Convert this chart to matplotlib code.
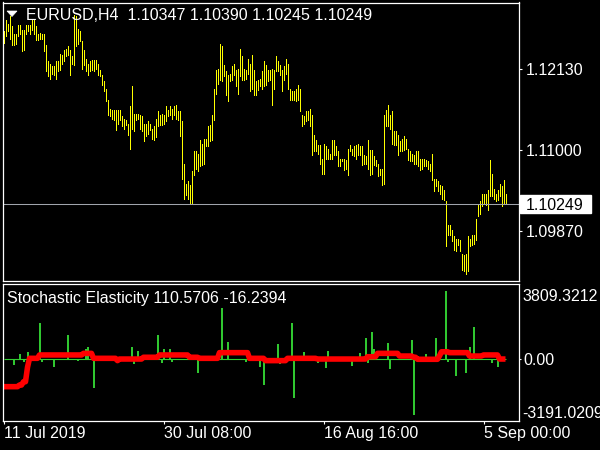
import numpy as np
import matplotlib
matplotlib.use("Agg")
import matplotlib.pyplot as plt
from matplotlib.transforms import blended_transform_factory, offset_copy
from matplotlib.patches import Rectangle, Polygon

plt.rcParams['font.family'] = ['Liberation Sans', 'DejaVu Sans']

# ---------------- data ----------------
header_text = "EURUSD,H4  1.10347 1.10390 1.10245 1.10249"
indicator_text = "Stochastic Elasticity 110.5706 -16.2394"

high = [1.1266,1.1282,1.1277,1.1287,1.1274,1.1263,1.1263,1.1275,1.1275,1.1268,
        1.1268,1.1275,1.1275,1.1275,1.1284,1.1284,1.1273,1.1263,1.1264,1.1263,
        1.1263,1.1247,1.1224,1.1221,1.1217,1.1217,1.1224,1.1224,1.1235,1.1233,
        1.1240,1.1242,1.1245,1.1240,1.1231,1.1289,1.1287,1.1270,1.1266,1.1252,
        1.1240,1.1228,1.1221,1.1224,1.1226,1.1226,1.1226,1.1221,1.1212,1.1205,
        1.1196,1.1186,1.1170,1.1158,1.1156,1.1156,1.1156,1.1156,1.1156,1.1147,
        1.1144,1.1142,1.1137,1.1161,1.1189,1.1151,1.1151,1.1151,1.1149,1.1147,
        1.1137,1.1137,1.1140,1.1137,1.1130,1.1133,1.1144,1.1154,1.1149,1.1151,
        1.1149,1.1161,1.1156,1.1161,1.1158,1.1161,1.1163,1.1154,1.1154,1.1140,
        1.1081,1.1053,1.1056,1.1051,1.1070,1.1098,1.1098,1.1095,1.1114,1.1109,
        1.1116,1.1116,1.1133,1.1135,1.1149,1.1186,1.1212,1.1214,1.1249,1.1245,
        1.1219,1.1210,1.1205,1.1207,1.1217,1.1221,1.1212,1.1214,1.1242,1.1231,
        1.1214,1.1212,1.1228,1.1221,1.1233,1.1212,1.1196,1.1198,1.1200,1.1210,
        1.1224,1.1219,1.1212,1.1212,1.1214,1.1212,1.1231,1.1224,1.1219,1.1212,
        1.1217,1.1228,1.1221,1.1186,1.1182,1.1182,1.1186,1.1191,1.1186,1.1149,
        1.1147,1.1154,1.1154,1.1158,1.1149,1.1121,1.1114,1.1107,1.1107,1.1088,
        1.1109,1.1105,1.1102,1.1095,1.1114,1.1114,1.1105,1.1098,1.1088,1.1088,
        1.1088,1.1086,1.1102,1.1107,1.1102,1.1105,1.1107,1.1109,1.1105,1.1105,
        1.1093,1.1091,1.1114,1.1100,1.1100,1.1091,1.1086,1.1081,1.1074,1.1074,
        1.1149,1.1156,1.1163,1.1149,1.1154,1.1126,1.1126,1.1121,1.1112,1.1116,
        1.1119,1.1116,1.1102,1.1098,1.1095,1.1093,1.1098,1.1098,1.1088,1.1088,
        1.1088,1.1086,1.1084,1.1081,1.1095,1.1060,1.1060,1.1056,1.1051,1.1049,
        1.1044,1.1028,1.0995,1.0995,1.0988,1.0979,1.0976,1.0976,1.0974,1.0955,
        1.0953,1.0955,1.0979,1.0976,1.0981,1.0981,1.1004,1.1023,1.1028,1.1039,
        1.1039,1.1039,1.1044,1.1086,1.1067,1.1046,1.1039,1.1044,1.1053,1.1049,
        1.1058,1.1039]

low = [1.1250,1.1259,1.1266,1.1256,1.1247,1.1247,1.1249,1.1259,1.1263,1.1238,
       1.1240,1.1263,1.1266,1.1263,1.1268,1.1263,1.1254,1.1254,1.1256,1.1256,
       1.1238,1.1210,1.1203,1.1200,1.1207,1.1205,1.1200,1.1210,1.1212,1.1221,
       1.1224,1.1231,1.1233,1.1205,1.1221,1.1219,1.1245,1.1249,1.1252,1.1214,
       1.1219,1.1210,1.1205,1.1210,1.1212,1.1210,1.1214,1.1205,1.1203,1.1191,
       1.1182,1.1168,1.1149,1.1147,1.1144,1.1142,1.1128,1.1137,1.1142,1.1133,
       1.1130,1.1135,1.1121,1.1102,1.1130,1.1126,1.1142,1.1144,1.1130,1.1126,
       1.1112,1.1119,1.1123,1.1128,1.1116,1.1114,1.1118,1.1133,1.1135,1.1135,
       1.1137,1.1140,1.1147,1.1149,1.1144,1.1149,1.1144,1.1142,1.1120,1.1060,
       1.1032,1.1037,1.1032,1.1025,1.1025,1.1065,1.1074,1.1070,1.1077,1.1079,
       1.1081,1.1105,1.1105,1.1112,1.1114,1.1142,1.1179,1.1193,1.1198,1.1196,
       1.1203,1.1177,1.1168,1.1196,1.1198,1.1205,1.1189,1.1179,1.1203,1.1198,
       1.1198,1.1200,1.1207,1.1182,1.1186,1.1177,1.1177,1.1184,1.1189,1.1186,
       1.1189,1.1191,1.1196,1.1198,1.1163,1.1186,1.1210,1.1210,1.1205,1.1182,
       1.1198,1.1207,1.1186,1.1170,1.1170,1.1170,1.1168,1.1170,1.1154,1.1133,
       1.1137,1.1140,1.1142,1.1133,1.1093,1.1098,1.1098,1.1095,1.1081,1.1067,
       1.1067,1.1088,1.1088,1.1088,1.1088,1.1093,1.1093,1.1077,1.1077,1.1084,
       1.1072,1.1074,1.1065,1.1098,1.1093,1.1091,1.1088,1.1093,1.1093,1.1079,
       1.1081,1.1081,1.1074,1.1065,1.1067,1.1079,1.1077,1.1063,1.1065,1.1051,
       1.1053,1.1133,1.1133,1.1130,1.1109,1.1107,1.1107,1.1093,1.1098,1.1098,
       1.1100,1.1102,1.1086,1.1084,1.1084,1.1081,1.1081,1.1077,1.1072,1.1074,
       1.1077,1.1077,1.1074,1.1070,1.1058,1.1042,1.1049,1.1042,1.1039,1.1032,
       1.1030,1.0965,1.0981,1.0981,1.0972,1.0960,1.0958,1.0967,1.0958,1.0932,
       1.0930,1.0927,1.0930,1.0965,1.0967,1.0969,1.0974,1.1007,1.1011,1.1021,
       1.1025,1.1023,1.1016,1.1035,1.1035,1.1032,1.1028,1.1030,1.1035,1.1021,
       1.1025,1.10245]

last_price = 1.10249
price_ticks = [1.1213, 1.1100, 1.0987]
price_tick_labels = ["1.12130", "1.11000", "1.09870"]

# indicator: red line stored as plateau levels with their bar counts
red_levels = [-1590, -1500, -1310, -500, 10, 200, 290, 10, -120, -30, 70, 200, 70,
              10, 330, 10, -120, 10, -30, 100, 290, 140, 70, -45, 150, 380, 330,
              140, 200, -30]
red_runs = [8, 2, 2, 1, 5, 22, 5, 12, 1, 12, 8, 15, 5, 10, 15, 8, 11, 15, 25, 5,
            11, 7, 2, 11, 1, 4, 10, 7, 8, 4]

# indicator: green histogram spikes (bar index, value); other bars ~0
spike_idx = [5, 8, 10, 12, 18, 19, 25, 32, 37, 41, 42, 45, 64, 65, 67, 77, 79, 80, 83, 84, 97,
             109, 112, 121, 128, 130, 137, 138, 144, 145, 150, 157, 161, 162, 174, 178, 181,
             182, 184, 185, 192, 193, 204, 205, 211, 216, 221, 222, 226, 231, 233, 235, 244, 247]
spike_val = [-370, 250, -180, 380, 1990, -180, -500, 1330, -120, 520, 630, -1680, 630, -330,
             410, 1330, -270, 520, 540, -180, -800,
             2830, 950, -200, -460, -1500, 820, -330, 2020, -2250, 380, -270, -560, 440, -430,
             330, 1140, -240, 1480, 520, 890, -610,
             1040, -3191.0209, 250, 1140, 3809.3212, -180, -970, -840, 630, 1800, -240, -500]
osc_max = 3809.3212
osc_min = -3191.0209
osc_max_label = "3809.3212"
osc_min_label = "-3191.0209"

date_tick_idx = [0, 80, 160, 240]
date_labels = ["11 Jul 2019", "30 Jul 08:00", "16 Aug 16:00", "5 Sep 00:00"]

# ---------------- styling ----------------
BAR = '#ffff00'
GREEN = '#32cd32'
RED = '#ff0000'
FG = '#ffffff'
FS = 11.5

W, H = 600, 450
fig = plt.figure(figsize=(W / 100, H / 100), dpi=100, facecolor='black')


def rect(x0, y0, x1, y1):
    return [x0 / W, 1 - y1 / H, (x1 - x0) / W, (y1 - y0) / H]


ax = fig.add_axes(rect(2.5, 2.5, 518.5, 281))
ax2 = fig.add_axes(rect(2.5, 283.5, 518.5, 420.5))

for a in (ax, ax2):
    a.set_facecolor('black')
    for s in a.spines.values():
        s.set_color(FG)
        s.set_linewidth(0.9)
    a.set_xlim(-0.5, 257.5)

idx = np.arange(len(high))

# ---- main price panel ----
ax.vlines(idx, low, high, colors=BAR, lw=0.5, antialiased=False)
ax.axhline(last_price, color='#a0a4ac', lw=0.75)
ax.set_ylim(1.09166, 1.13065)
ax.set_xticks([])
ax.yaxis.tick_right()
ax.set_yticks(price_ticks, price_tick_labels)
ax.tick_params(axis='y', direction='out', length=2.2, width=0.8, color=FG,
               labelcolor=FG, pad=3.0, labelsize=FS)

bt = blended_transform_factory(ax.transAxes, ax.transData)
ax.add_patch(Rectangle((1.0029, last_price - 0.00126), 0.137, 0.00252,
                       transform=bt, facecolor='white', edgecolor='white',
                       clip_on=False, zorder=5))
ax.text(1.0145, last_price, "1.10249", transform=bt, ha='left',
        va='center_baseline', color='black', fontsize=FS, zorder=6, clip_on=False)

# header
fig.patches.append(Polygon([[7, H - 11], [17, H - 11], [12, H - 16.5]], closed=True,
                           transform=None, facecolor=FG, edgecolor=FG, lw=0.5))
fig.text(26 / W, 1 - 20.5 / H, header_text, color=FG, fontsize=FS, ha='left',
         va='baseline')

# ---- indicator panel ----
red = np.repeat(red_levels, red_runs)
ax2.hlines(0, idx[0], idx[-1], colors=GREEN, lw=0.8)
ax2.vlines(spike_idx, 0, spike_val, colors=GREEN, lw=1.4)
ax2.plot(idx, red, color=RED, lw=4.0, solid_joinstyle='round', solid_capstyle='butt')
ax2.set_ylim(-3500, 4234)
ax2.yaxis.tick_right()
ax2.set_yticks([0], ["0.00"])
ax2.tick_params(axis='y', direction='out', length=1.6, width=0.8, color=FG,
                labelcolor=FG, pad=1.6, labelsize=FS)
bt2 = blended_transform_factory(ax2.transAxes, ax2.transData)
ax2.text(1.0068, osc_max, osc_max_label,
         transform=offset_copy(bt2, fig=fig, y=-4, units='dots'),
         ha='left', va='center_baseline', color=FG, fontsize=FS, clip_on=False)
ax2.text(1.0068, osc_min, osc_min_label,
         transform=offset_copy(bt2, fig=fig, y=3.3, units='dots'),
         ha='left', va='center_baseline', color=FG, fontsize=FS, clip_on=False)

ax2.set_xticks(date_tick_idx)
ax2.set_xticklabels(date_labels, ha='left')
ax2.tick_params(axis='x', direction='out', length=2.2, width=0.8, color=FG,
                labelcolor=FG, pad=2.0, labelsize=FS)

fig.text(7 / W, 1 - 303.5 / H, indicator_text, color=FG, fontsize=FS, ha='left',
         va='baseline')

fig.savefig('out.png', dpi=100, facecolor='black')
